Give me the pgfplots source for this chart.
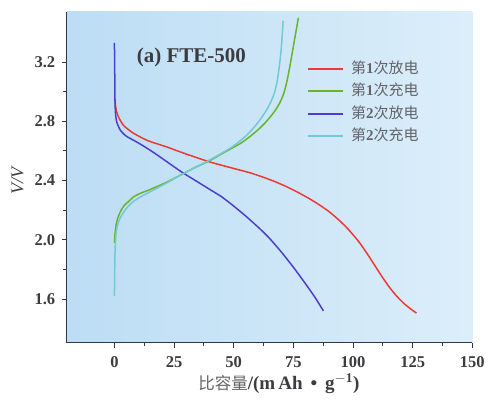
\documentclass[border=0pt]{standalone}
\usepackage{pgfplots}
\pgfplotsset{compat=1.18}
\usepackage{fontspec}
\setmainfont{Liberation Serif}
\newfontfamily\cjk{Noto Sans CJK SC}
\definecolor{cred}{RGB}{238,58,50}
\definecolor{cgreen}{RGB}{105,180,40}
\definecolor{cblue}{RGB}{78,62,205}
\definecolor{ccyan}{RGB}{115,200,212}
\definecolor{bgl}{RGB}{188,221,244}
\definecolor{bgr}{RGB}{220,238,250}
\definecolor{axc}{RGB}{50,55,72}
\definecolor{txc}{RGB}{60,60,64}
\definecolor{lgc}{RGB}{100,100,105}
\begin{document}
\begin{tikzpicture}
\useasboundingbox (0,0) rectangle (490pt,409pt);
\begin{axis}[
  at={(66.7pt,66.3pt)}, anchor=south west,
  width=405.6pt, height=331pt, scale only axis,
  xmin=-20, xmax=150, ymin=1.305, ymax=3.541,
  axis x line*=bottom, axis y line*=left,
  axis line style={axc, line width=1.2pt},
  axis background/.style={shade, left color=bgl, right color=bgr},
  xtick={0,25,50,75,100,125,150},
  ytick={1.6,2.0,2.4,2.8,3.2},
  minor x tick num=1, minor y tick num=1,
  tick align=outside,
  major tick length=5pt, minor tick length=3.5pt,
  tick style={axc, line width=1pt},
  /pgf/number format/assume math mode=true,
  ticklabel style={font=\bfseries\fontsize{16.5}{16.5}\selectfont, text=txc},
  yticklabel style={xshift=-3pt, /pgf/number format/fixed, /pgf/number format/fixed zerofill, /pgf/number format/precision=1},
  xticklabel style={yshift=-5pt, /pgf/number format/fixed},
  every axis x label/.style={at={(rel axis cs:0.523,0)}, anchor=center, yshift=-41pt},
  every axis y label/.style={at={(rel axis cs:-0.121,0.4885)}, anchor=center, rotate=90},
  xlabel={{\cjk\color{lgc}\fontsize{16.5}{16.5}\selectfont 比容量}{\bfseries\fontsize{19}{19}\selectfont\color{txc}/(m\,Ah\ \,•\ \,g$^{\mathbf{-1}}$)}},
  ylabel={\fontsize{18}{18}\selectfont\itshape\color{txc} V/V},
  legend style={at={(rel axis cs:0.5925,0.848)}, anchor=north west, draw=none, fill=none,
    inner sep=0pt, row sep=9.5pt,
    font=\cjk\fontsize{15}{15}\selectfont, text=lgc,
    nodes={inner sep=0pt, text height=11pt, text depth=2pt},
    /tikz/every odd column/.append style={column sep=7pt}},
  legend cell align=left,
  legend image code/.code={\draw[#1, line width=2pt] (0pt,0pt) -- (35pt,0pt);},
  every axis plot/.append style={line width=1.5pt, smooth, tension=0.4},
]
\addplot[cred] coordinates {
(0.2,2.95)(0.5,2.90)(1,2.86)(2,2.82)(4,2.77)(8,2.72)(14,2.67)(22,2.627)(30,2.58)(40,2.526)(50,2.482)(57,2.452)(62,2.425)(67,2.395)(72,2.36)(77,2.32)(82,2.275)(86,2.235)(90,2.19)(94,2.135)(97.5,2.08)(100.5,2.025)(103,1.975)(106,1.905)(109,1.83)(112,1.755)(115,1.685)(118,1.625)(121,1.575)(124,1.535)(126.6,1.505)
};
\addlegendentry{第{\normalfont\bfseries 1}次放电}
\addplot[cgreen] coordinates {
(0,1.98)(0.3,2.05)(0.8,2.11)(1.5,2.15)(2.5,2.19)(4,2.23)(6,2.26)(8,2.29)(11,2.315)(15,2.34)(22,2.39)(28,2.44)(34,2.49)(40,2.535)(46,2.59)(52.7,2.65)(57,2.70)(61,2.755)(64,2.805)(67,2.865)(69.3,2.925)(71,2.99)(72.3,3.07)(73.4,3.16)(74.5,3.26)(75.8,3.38)(77.1,3.50)
};
\addlegendentry{第{\normalfont\bfseries 1}次充电}
\addplot[cblue] coordinates {
(0,3.33)(0.1,3.2)(0.2,3.0)(0.3,2.90)(0.6,2.83)(1.1,2.79)(2.5,2.74)(5,2.70)(10,2.655)(15,2.605)(20,2.55)(28,2.46)(35,2.39)(40,2.34)(45,2.29)(50,2.228)(55.5,2.154)(61,2.074)(65,2.010)(70,1.917)(75,1.815)(80,1.705)(84,1.613)(87.6,1.52)
};
\addlegendentry{第{\normalfont\bfseries 2}次放电}
\addplot[ccyan] coordinates {
(0,1.62)(0.1,1.75)(0.2,1.88)(0.4,1.98)(0.8,2.06)(1.5,2.11)(2.5,2.15)(4,2.19)(6,2.23)(8,2.26)(11,2.29)(15,2.325)(22,2.385)(28,2.44)(34,2.49)(40,2.54)(45,2.585)(50,2.635)(55,2.70)(58,2.75)(61,2.81)(63.5,2.87)(65.5,2.93)(67,2.99)(68.2,3.07)(69.1,3.17)(69.8,3.27)(70.3,3.37)(70.7,3.48)
};
\addlegendentry{第{\normalfont\bfseries 2}次充电}
\node[anchor=west, font=\bfseries\fontsize{21}{21}\selectfont, text=txc, inner sep=0pt] at (rel axis cs:0.1726,0.862) {(a) FTE-500};
\end{axis}
\end{tikzpicture}
\end{document}
